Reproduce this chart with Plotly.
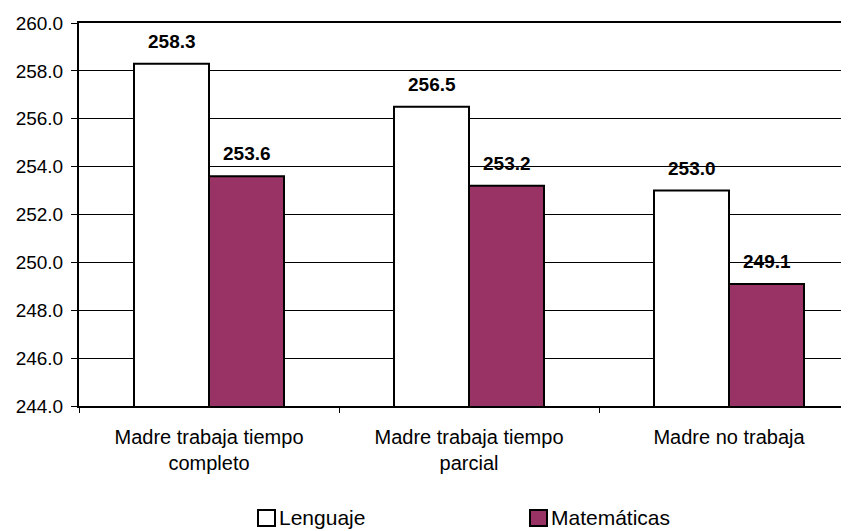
import plotly.graph_objects as go

categories = ["Madre trabaja tiempo<br>completo", "Madre trabaja tiempo<br>parcial", "Madre no trabaja"]
lenguaje = [258.3, 256.5, 253.0]
matematicas = [253.6, 253.2, 249.1]
series_names = ["Lenguaje", "Matemáticas"]
series_colors = ["#FFFFFF", "#993366"]

# the page body adds an 8px margin, so the figure is drawn 8px smaller and
# every screen position below is shifted by that amount
OFF = 8
W, H = 849 - OFF, 531 - OFF
L, T, B = 79 - OFF, 23 - OFF, 406 - OFF  # plot area in figure pixels
FONT = "Liberation Sans, Arial, sans-serif"


def px(x):
    # screen x -> paper
    return (x - OFF - L) / (W - L)


def py(y):
    # screen y -> paper
    return (B - (y - OFF)) / (B - T)


fig = go.Figure()
for name, vals, col in zip(series_names, [lenguaje, matematicas], series_colors):
    fig.add_trace(go.Bar(x=categories, y=vals, name=name, marker=dict(color=col, line=dict(color="black", width=2))))

# value labels above each bar
cat_w = 260
bar_w = 75
for i, vals in enumerate([lenguaje, matematicas]):
    shift = (i - 0.5) * bar_w
    for c, v in zip(categories, vals):
        fig.add_annotation(x=c, y=v, text=f"<b>{v:.1f}</b>", showarrow=False, xshift=shift, yshift=10,
                           yanchor="bottom", font=dict(family=FONT, size=19, color="black"))

# legend drawn by hand: square key right next to the text
legend_items = [(258, series_names[0], series_colors[0]), (530, series_names[1], series_colors[1])]
for x0, name, col in legend_items:
    fig.add_shape(type="rect", xref="paper", yref="paper", x0=px(x0), x1=px(x0 + 17), y0=py(510), y1=py(526),
                  fillcolor=col, line=dict(color="black", width=2))
    fig.add_annotation(xref="paper", yref="paper", x=px(x0 + 19), y=py(517), text=name, showarrow=False,
                       xanchor="left", yanchor="middle", font=dict(family=FONT, size=21, color="black"))

fig.update_layout(
    width=W, height=H,
    margin=dict(l=L, r=0, t=T, b=H - B, pad=0),
    paper_bgcolor="white", plot_bgcolor="white",
    barmode="group", bargap=1 - 2 * bar_w / cat_w, bargroupgap=0,
    showlegend=False,
    font=dict(family=FONT, color="black"),
)
fig.update_xaxes(
    type="category", range=[-0.5, 2.5 - 10 / cat_w],
    showline=True, linecolor="black", linewidth=2, mirror=True,
    ticks="outside", tickson="boundaries", ticklen=5, tickcolor="black", tickwidth=1,
    tickfont=dict(family=FONT, size=20, color="black"), ticklabelstandoff=12,
    showgrid=False,
)
fig.update_yaxes(
    range=[244, 260], dtick=2, tick0=244, tickformat=".1f",
    showline=True, linecolor="black", linewidth=2,
    ticks="outside", ticklen=6, tickcolor="black", tickwidth=1,
    tickfont=dict(family=FONT, size=19, color="black"), ticklabelstandoff=4,
    showgrid=True, gridcolor="black", gridwidth=1, zeroline=False,
)

fig.write_html("out.html")
